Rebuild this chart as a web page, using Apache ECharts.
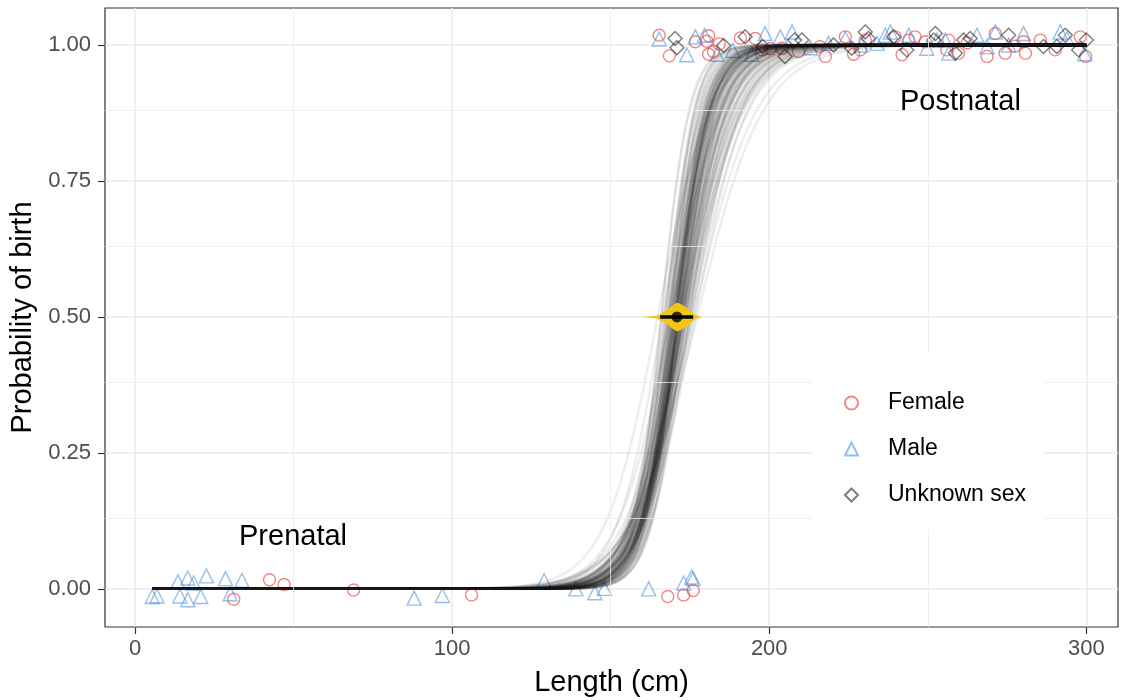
<!DOCTYPE html>
<html>
<head>
<meta charset="utf-8">
<script src="https://cdn.jsdelivr.net/npm/echarts@6.0.0/dist/echarts.min.js"></script>
<style>
    html, body, #main { width: 100%; height: 100%; margin: 0; background: #fff; }
</style>
</head>
<body>
<div id="main"></div>
<script>
// observed lengths (cm) and jittered outcome (0 = prenatal, 1 = born)
var femalePts = [
    [42.4, 0.017], [47.0, 0.008], [31.1, -0.019], [68.9, -0.002], [106.1, -0.011],
    [168.0, -0.014], [173.0, -0.011], [176.0, -0.003],
    [165.3, 1.018], [168.5, 0.980], [176.7, 1.006], [180.9, 1.017], [180.3, 1.007],
    [180.9, 0.983], [182.4, 0.988], [184.2, 1.002], [190.9, 1.013], [195.6, 1.012],
    [197.7, 0.991], [200.3, 0.993], [204.0, 0.994], [209.2, 0.988], [216.0, 0.997],
    [217.7, 0.979], [224.0, 1.015], [226.6, 0.983], [228.7, 0.991], [230.3, 1.009],
    [239.7, 1.015], [241.9, 0.982], [244.0, 1.009], [246.0, 1.015], [249.2, 1.006],
    [256.0, 0.991], [256.6, 1.009], [259.7, 0.985], [262.5, 1.004], [268.7, 0.979],
    [271.3, 1.021], [274.4, 0.985], [277.5, 0.998], [280.2, 1.006], [280.8, 0.985],
    [285.5, 1.009], [290.2, 0.991], [298.1, 1.015], [299.8, 0.979]
];
var malePts = [
    [5.4, -0.014], [6.9, -0.013], [13.5, 0.013], [16.6, 0.020], [18.5, 0.011],
    [14.1, -0.013], [16.6, -0.020], [20.7, -0.014], [22.5, 0.024], [28.5, 0.019],
    [30.0, -0.009], [33.7, 0.016], [88.0, -0.017], [96.9, -0.012], [129.0, 0.015],
    [139.0, 0.000], [145.0, -0.007], [148.0, 0.001], [162.0, 0.000], [173.0, 0.011],
    [175.5, 0.022], [176.0, 0.019],
    [165.3, 1.011], [174.0, 0.982], [176.7, 1.015], [179.6, 1.018], [183.5, 0.983],
    [188.5, 0.990], [194.5, 0.983], [198.7, 1.021], [203.5, 1.015], [207.2, 1.024],
    [213.0, 0.995], [218.7, 1.003], [224.0, 1.012], [229.0, 1.000], [234.0, 1.003],
    [236.6, 1.018], [238.2, 1.024], [244.0, 1.018], [249.7, 0.994], [252.9, 1.009],
    [255.5, 1.009], [256.6, 0.985], [265.5, 1.018], [268.7, 0.997], [271.3, 1.024],
    [275.5, 1.000], [280.2, 1.021], [291.8, 1.024], [293.9, 1.012], [299.5, 0.984]
];
var unknownPts = [
    [170.3, 1.012], [170.9, 0.995], [185.6, 0.999], [192.4, 1.015], [197.9, 0.997],
    [205.0, 0.979], [208.0, 1.009], [210.3, 1.009], [220.3, 1.000], [226.0, 0.994],
    [230.3, 1.024], [231.3, 1.012], [239.2, 1.015], [243.4, 0.991], [252.4, 1.021],
    [251.9, 1.009], [258.7, 0.985], [261.3, 1.009], [263.4, 1.012], [275.5, 1.018],
    [286.5, 0.997], [290.7, 0.997], [293.4, 1.018], [297.6, 0.991], [300.0, 1.009]
];

// posterior draws of the logistic curve: length at 50% and slope
var curveMid = [
    171.2, 169.8, 172.5, 170.4, 168.9, 173.1, 171.7, 166.8, 174.2, 170.9,
    172.0, 169.3, 175.4, 171.5, 168.2, 170.1, 173.8, 171.0, 167.5, 172.9,
    170.6, 169.0, 176.1, 171.9, 170.3, 168.6, 174.7, 172.3, 165.9, 171.4,
    173.4, 170.0, 169.5, 172.7, 171.1, 167.9, 175.0, 170.7, 172.1, 168.4,
    173.6, 171.3, 169.7, 177.2, 170.2, 171.8, 166.3, 172.6, 170.8, 169.2,
    174.0, 171.6, 168.0, 173.0, 170.5, 172.4, 164.8, 171.0, 169.9, 175.8,
    170.4, 172.8, 168.7, 171.2, 173.3, 167.2, 170.9, 174.5, 169.4, 172.2,
    171.5, 166.0, 173.9, 170.6, 168.3, 172.0, 171.7, 169.6, 176.6, 170.1,
    172.5, 167.7, 171.4, 174.9, 170.3, 169.1, 173.2, 171.9, 168.8, 172.9,
    170.0, 175.2, 169.8, 171.6, 167.0, 173.7, 170.7, 172.3, 168.5, 171.1
];
var curveSlope = [
    0.17, 0.20, 0.14, 0.18, 0.22, 0.13, 0.16, 0.19, 0.12, 0.21,
    0.15, 0.17, 0.11, 0.19, 0.24, 0.14, 0.16, 0.20, 0.23, 0.125,
    0.18, 0.15, 0.10, 0.17, 0.21, 0.25, 0.13, 0.19, 0.22, 0.15,
    0.11, 0.18, 0.16, 0.14, 0.20, 0.17, 0.12, 0.23, 0.16, 0.19,
    0.14, 0.17, 0.21, 0.095, 0.18, 0.13, 0.14, 0.16, 0.19, 0.24,
    0.11, 0.17, 0.15, 0.20, 0.16, 0.125, 0.12, 0.22, 0.14, 0.13,
    0.19, 0.16, 0.12, 0.18, 0.15, 0.21, 0.17, 0.14, 0.20, 0.11,
    0.16, 0.23, 0.13, 0.19, 0.17, 0.14, 0.22, 0.16, 0.12, 0.18,
    0.15, 0.19, 0.13, 0.16, 0.20, 0.18, 0.12, 0.17, 0.21, 0.14,
    0.16, 0.125, 0.19, 0.15, 0.17, 0.18, 0.14, 0.21, 0.16, 0.19
];
var curveFrom = 5.4, curveTo = 300;

// density of the 50% length (half height in probability units)
var violinX = [160.5, 163, 164.5, 165.6, 167.7, 169.3, 170.9, 172.5, 174.0, 175.6, 176.7, 177.7, 178.7];
var violinHalf = [0.0006, 0.0015, 0.0028, 0.0061, 0.0129, 0.0202, 0.0262, 0.0225, 0.0171, 0.0092, 0.0037, 0.0018, 0.0006];
var l50 = 170.9;
var l50Interval = [165.6, 176.0];

var xTicks = [0, 100, 200, 300];
var xMinor = [50, 150, 250];
var yTicks = [0, 0.25, 0.5, 0.75, 1];
var yMinor = [0.125, 0.375, 0.625, 0.875];

var font = 'Liberation Sans, Arial, Helvetica, sans-serif';
var chart = echarts.init(document.getElementById('main'));

var curveSeries = curveMid.map(function (m, i) {
    var k = curveSlope[i];
    var pts = [];
    for (var x = curveFrom; x <= curveTo + 0.001; x += 1) {
        pts.push([x, 1 / (1 + Math.exp(-k * (x - m)))]);
    }
    pts.push([curveTo, 1 / (1 + Math.exp(-k * (curveTo - m)))]);
    return {
        type: 'line', data: pts, symbol: 'none', showSymbol: false, silent: true,
        lineStyle: { color: '#1e1e1e', width: 2.4, opacity: 0.08 },
        emphasis: { disabled: true }, z: 3, animation: false
    };
});

function pointSeries(name, data, symbol, size, color) {
    return {
        name: name, type: 'scatter', data: data, symbol: symbol, symbolSize: size,
        itemStyle: { color: 'rgba(0,0,0,0)', borderColor: color, borderWidth: 1.4 },
        emphasis: { disabled: true }, z: 2, silent: true
    };
}

var minorLines = xMinor.map(function (v) { return { xAxis: v }; })
    .concat(yMinor.map(function (v) { return { yAxis: v }; }));

var labelStyle = { show: true, position: 'inside', fontSize: 29, color: '#000', opacity: 1, fontFamily: font };

var option = {
    animation: false,
    backgroundColor: '#fff',
    grid: {
        left: 105, right: 10, top: 8, bottom: 73,
        show: true, borderColor: '#333', borderWidth: 1.2, backgroundColor: 'transparent',
        outerBoundsMode: 'none'
    },
    xAxis: {
        type: 'value', min: -9.5, max: 310,
        name: 'Length (cm)', nameLocation: 'middle', nameGap: 41,
        nameTextStyle: { fontSize: 29, color: '#000', fontFamily: font },
        axisLine: { show: false, onZero: false },
        axisTick: { show: true, length: 7, customValues: xTicks, lineStyle: { color: '#333', width: 1.2 } },
        axisLabel: { customValues: xTicks, margin: 11, fontSize: 22, color: '#4D4D4D', fontFamily: font },
        splitLine: { show: true, lineStyle: { color: '#EBEBEB', width: 1.5 } }
    },
    yAxis: {
        type: 'value', min: -0.07, max: 1.068,
        name: 'Probability of birth', nameLocation: 'middle', nameGap: 66,
        nameTextStyle: { fontSize: 29, color: '#000', fontFamily: font },
        axisLine: { show: false, onZero: false },
        axisTick: { show: true, length: 7, customValues: yTicks, lineStyle: { color: '#333', width: 1.2 } },
        axisLabel: {
            customValues: yTicks, margin: 14, fontSize: 22, color: '#4D4D4D', fontFamily: font,
            formatter: function (v) { return v.toFixed(2); }
        },
        splitLine: { show: true, lineStyle: { color: '#EBEBEB', width: 1.5 } }
    },
    legend: {
        data: ['Female', 'Male', 'Unknown sex'],
        orient: 'vertical', left: 812, top: 352, z: 20,
        padding: [38, 17, 22, 32], itemGap: 20,
        itemWidth: 13, itemHeight: 13,
        backgroundColor: '#fff',
        textStyle: { fontSize: 23, color: '#000', fontFamily: font, lineHeight: 26, padding: [0, 0, 0, 25] },
        selectedMode: false
    },
    series: [
        {
            type: 'line', data: [], silent: true, z: 1,
            markLine: {
                silent: true, symbol: 'none', label: { show: false }, animation: false,
                lineStyle: { color: '#EBEBEB', width: 0.8, type: 'solid' },
                data: minorLines
            }
        },
        pointSeries('Female', femalePts, 'circle', 12, 'rgba(236,52,52,0.75)'),
        pointSeries('Male', malePts, 'triangle', 14, 'rgba(74,144,220,0.72)'),
        pointSeries('Unknown sex', unknownPts, 'diamond', 14, 'rgba(30,30,30,0.72)')
    ].concat(curveSeries).concat([
        {
            type: 'custom', silent: true, z: 5,
            data: [[l50, 0.5]],
            renderItem: function (params, api) {
                var pts = [];
                for (var i = 0; i < violinX.length; i++) {
                    pts.push(api.coord([violinX[i], 0.5 + violinHalf[i]]));
                }
                for (var j = violinX.length - 1; j >= 0; j--) {
                    pts.push(api.coord([violinX[j], 0.5 - violinHalf[j]]));
                }
                return { type: 'polygon', shape: { points: pts, smooth: 0.2 }, style: { fill: '#F3C614' } };
            }
        },
        {
            type: 'line', data: [[l50Interval[0], 0.5], [l50Interval[1], 0.5]], symbol: 'none',
            silent: true, z: 6, lineStyle: { color: '#000', width: 3.5 }
        },
        {
            type: 'scatter', data: [[l50, 0.5]], symbolSize: 11, silent: true, z: 7,
            itemStyle: { color: '#000' }
        },
        {
            type: 'scatter', silent: true, z: 8, symbolSize: 1,
            itemStyle: { color: 'rgba(0,0,0,0)' },
            data: [
                { value: [49.8, 0.096], label: Object.assign({ formatter: 'Prenatal' }, labelStyle) },
                { value: [260.3, 0.895], label: Object.assign({ formatter: 'Postnatal' }, labelStyle) }
            ],
            label: labelStyle
        }
    ])
};

chart.setOption(option);
window.onresize = chart.resize;
</script>
</body>
</html>
